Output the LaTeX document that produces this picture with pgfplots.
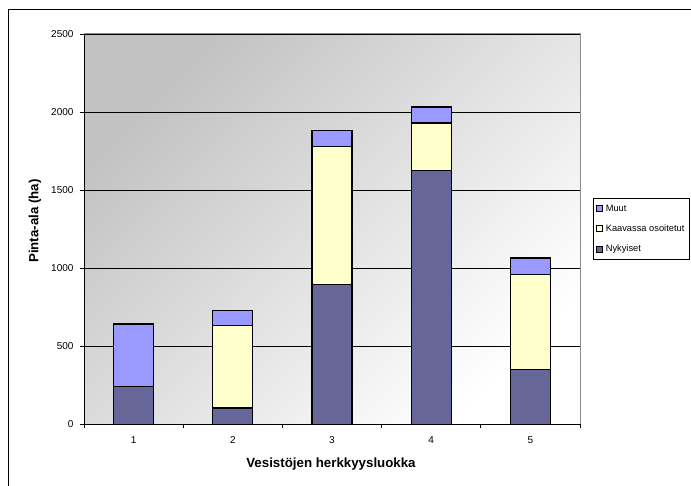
\documentclass[border=0pt]{standalone}
\usepackage{pgfplots}
\pgfplotsset{compat=1.18}
\usepackage{fontspec}
\setmainfont{Liberation Sans}
\definecolor{nyk}{HTML}{666699}
\definecolor{kaav}{HTML}{FFFFCC}
\definecolor{muut}{HTML}{9999FF}
\begin{document}
\begin{tikzpicture}[x=1bp,y=1bp]
\useasboundingbox (0,0) rectangle (691,486);
% chart frame
\draw[line width=1bp] (8,-5) -- (8,476) -- (700,476);
\begin{axis}[
  at={(84bp,61.5bp)}, anchor=south west,
  width=496bp, height=390.5bp, scale only axis,
  ybar stacked, bar width=40bp,
  xmin=0.5, xmax=5.5, ymin=0, ymax=2500,
  xtick={0.5,1.5,...,5.5}, xticklabels={},
  extra x ticks={1,2,3,4,5},
  extra x tick labels={1,2,3,4,5},
  extra x tick style={tick style={draw=none}},
  ytick={0,500,...,2500},
  ymajorgrids,
  major grid style={black, line width=0.8bp},
  axis lines*=left,
  axis line style={-, black, line width=1bp},
  tick align=outside, major tick length=4bp,
  tick style={black, line width=0.8bp},
  axis background/.style={top color=black!24, bottom color=white, shading angle=45, draw=black!45, line width=1bp},
  ticklabel style={font=\fontsize{10bp}{12bp}\selectfont},
  /pgf/number format/assume math mode=true,
  /pgf/number format/1000 sep={},
  xticklabel style={yshift=-5bp},
  yticklabel style={xshift=-3bp},
  reverse legend,
  legend style={at={(axis description cs:1.0262,0.58)}, anchor=north west,
    draw=black, line width=0.6bp, inner xsep=2.5bp, inner ysep=4.5bp,
    row sep=8bp, font=\fontsize{9.3bp}{10bp}\selectfont,
    cells={anchor=west},
    /tikz/every odd column/.append style={column sep=1bp}},
  legend image code/.code={\draw[#1, line width=1bp] (0bp,-3bp) rectangle (6bp,3bp);},
]
\addplot[fill=nyk, draw=black, line width=1.3bp] coordinates {(1,244) (2,105) (3,898) (4,1627) (5,350)};
\addplot[fill=kaav, draw=black, line width=1.3bp] coordinates {(1,0) (2,531) (3,882) (4,303) (5,612)};
\addplot[fill=muut, draw=black, line width=1.3bp] coordinates {(1,399) (2,96) (3,102) (4,103) (5,104)};
\legend{Nykyiset, Kaavassa osoitetut, Muut}
\end{axis}
\node[font=\bfseries\fontsize{13.3bp}{16bp}\selectfont] at (331,22) {Vesistöjen herkkyysluokka};
\node[rotate=90, font=\bfseries\fontsize{13.3bp}{16bp}\selectfont] at (35,265) {Pinta-ala (ha)};
\end{tikzpicture}
\end{document}
